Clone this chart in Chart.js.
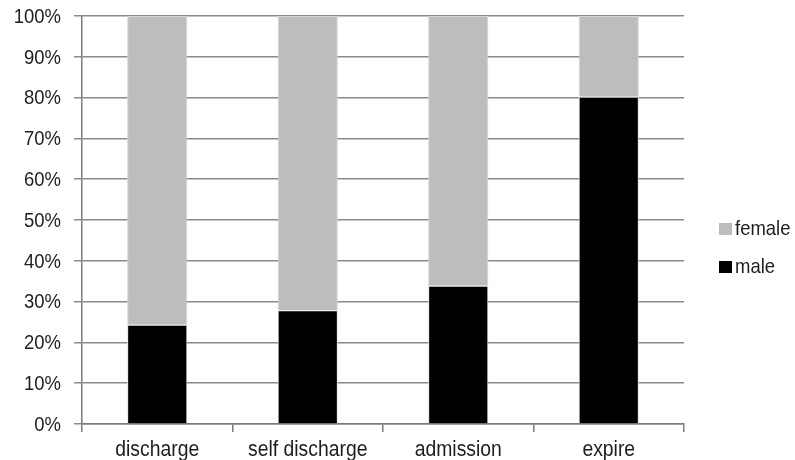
<!DOCTYPE html>
<html>
<head>
<meta charset="utf-8">
<script src="https://cdn.jsdelivr.net/npm/chart.js@4/dist/chart.umd.min.js"></script>
<style>
  html, body { margin: 0; padding: 0; background: #fff; }
  #wrap { width: 795px; height: 460px; position: relative; }
</style>
</head>
<body>
<div id="wrap"><canvas id="c" width="795" height="460"></canvas></div>
<script>
// Outcome categories and share of each sex (percent of the category)
const categories = ['discharge', 'self discharge', 'admission', 'expire'];
const maleShare = [24.3, 27.9, 33.9, 80.2];
const femaleShare = [75.7, 72.1, 66.1, 19.8];
const seriesNames = ['male', 'female'];
const seriesColors = ['#000000', '#bdbdbd'];

const FONT = '"Liberation Sans", Arial, Helvetica, sans-serif';
const TEXT = '#1e1e1e';
const SQUEEZE = 0.88; // horizontal compression of all text (narrow lettering)

function narrowText(ctx, str, x, y, align, baseline, size) {
  ctx.save();
  ctx.font = size + 'px ' + FONT;
  ctx.textAlign = align;
  ctx.textBaseline = baseline;
  ctx.fillStyle = TEXT;
  ctx.translate(x, y);
  ctx.scale(SQUEEZE, 1);
  ctx.fillText(str, 0, 0);
  ctx.restore();
}

// Tick labels placed from the library's scales, drawn with narrow lettering
const narrowTickLabels = {
  id: 'narrowTickLabels',
  afterDraw(chart) {
    const ctx = chart.ctx;
    const ys = chart.scales.y;
    ys.ticks.forEach(t => {
      narrowText(ctx, t.value + '%', ys.right - 21, ys.getPixelForValue(t.value) + 1, 'right', 'middle', 21);
    });
    const xs = chart.scales.x;
    xs.ticks.forEach((t, i) => {
      narrowText(ctx, xs.getLabelForValue(t.value), xs.getPixelForTick(i), xs.top + 32, 'center', 'alphabetic', 22);
    });
  }
};

// Legend drawn in the right margin, female listed above male
const sideLegend = {
  id: 'sideLegend',
  afterDraw(chart) {
    const ctx = chart.ctx;
    const ds = chart.data.datasets.slice().reverse();
    ds.forEach((d, i) => {
      const base = 235 + i * 38;
      ctx.fillStyle = d.backgroundColor;
      ctx.fillRect(719, base - 12, 13, 12);
      narrowText(ctx, d.label, 735, base, 'left', 'alphabetic', 21);
    });
  }
};

new Chart(document.getElementById('c'), {
  type: 'bar',
  data: {
    labels: categories,
    datasets: [
      { label: seriesNames[0], data: maleShare, backgroundColor: seriesColors[0],
        borderColor: '#e4e4e4', borderWidth: 1 },
      { label: seriesNames[1], data: femaleShare, backgroundColor: seriesColors[1],
        borderColor: '#d6d6d6', borderWidth: 1 }
    ]
  },
  options: {
    responsive: false,
    animation: false,
    devicePixelRatio: 1,
    layout: { padding: { left: 0, right: 111, top: 16, bottom: 0 } },
    datasets: { bar: { barPercentage: 0.4, categoryPercentage: 1.0 } },
    plugins: { legend: { display: false }, tooltip: { enabled: false } },
    scales: {
      x: {
        stacked: true,
        grid: { offset: true, drawOnChartArea: false, drawTicks: true, tickLength: 8,
                color: '#7a7a7a', lineWidth: 1.5 },
        border: { color: '#7a7a7a', width: 1.5 },
        ticks: { display: false },
        afterFit(scale) { scale.height = 36; }
      },
      y: {
        stacked: true,
        min: 0, max: 100,
        grid: { color: '#8a8a8a', lineWidth: 1.5, tickLength: 8 },
        border: { color: '#7a7a7a', width: 1.5 },
        ticks: { stepSize: 10, display: false },
        afterFit(scale) { scale.width = 82; }
      }
    }
  },
  plugins: [narrowTickLabels, sideLegend]
});
</script>
</body>
</html>
